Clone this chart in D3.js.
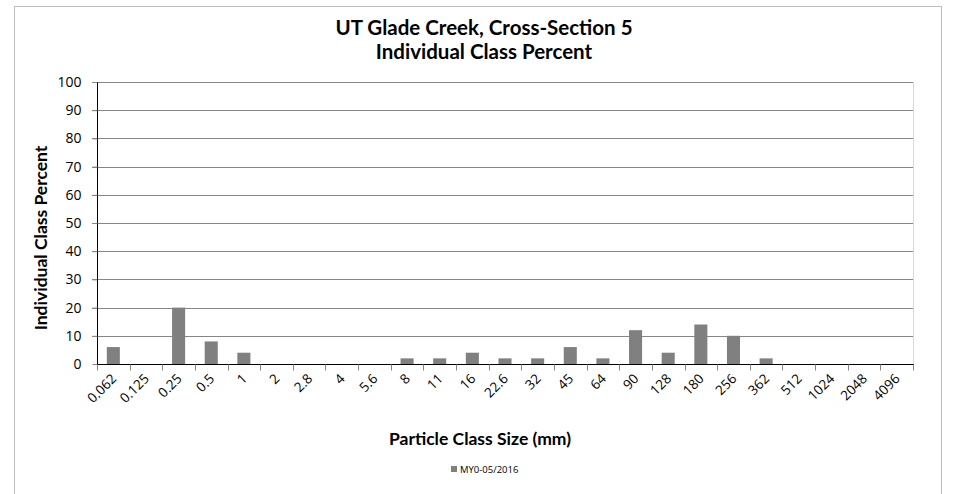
<!DOCTYPE html>
<html>
<head>
<meta charset="utf-8">
<title>UT Glade Creek, Cross-Section 5</title>
<script src="https://cdn.jsdelivr.net/npm/d3@7"></script>
<style>
  body { margin: 0; background: #fff; }
  text { font-family: Lato, "Open Sans", sans-serif; fill: #000; }
</style>
</head>
<body>
<svg id="chart" width="957" height="494"></svg>
<script>
// particle class sizes (mm) and percent in each class
var classes = ["0.062", "0.125", "0.25", "0.5", "1", "2", "2.8", "4", "5.6", "8", "11", "16", "22.6",
               "32", "45", "64", "90", "128", "180", "256", "362", "512", "1024", "2048", "4096"];
var percents = [6, 0, 20, 8, 4, 0, 0, 0, 0, 2, 2, 4, 2, 2, 6, 2, 12, 4, 14, 10, 2, 0, 0, 0, 0];
var yTicks = [0, 10, 20, 30, 40, 50, 60, 70, 80, 90, 100];
var seriesName = "MY0-05/2016";

var svg = d3.select("#chart");
var plotL = 97, plotR = 913, plotT = 82, plotB = 364;

// outer chart frame
svg.append("rect")
  .attr("x", 14.5).attr("y", 6.5)
  .attr("width", 927).attr("height", 500)
  .attr("fill", "none").attr("stroke", "#bfbfbf");

var x = d3.scaleBand().domain(classes).range([plotL, plotR]).paddingInner(0.6).paddingOuter(0.3);
var xb = d3.scaleBand().domain(classes).range([plotL, plotR]);  // for the tick marks
var y = d3.scaleLinear().domain([0, 100]).range([plotB, plotT]);

// gridlines
svg.append("g").selectAll("line")
  .data(yTicks.filter(function(d) { return d > 0; }))
  .enter().append("line")
    .attr("x1", plotL - 5).attr("x2", plotR)
    .attr("y1", function(d) { return Math.round(y(d)) + 0.5; })
    .attr("y2", function(d) { return Math.round(y(d)) + 0.5; })
    .attr("stroke", "#868686");

// right border of plot area
svg.append("line")
  .attr("x1", plotR + 0.5).attr("x2", plotR + 0.5)
  .attr("y1", plotT).attr("y2", plotB + 6)
  .attr("stroke", "#d9d9d9");

// bars
svg.append("g").selectAll("rect")
  .data(percents)
  .enter().append("rect")
    .attr("x", function(d, i) { return x(classes[i]); })
    .attr("width", x.bandwidth())
    .attr("y", function(d) { return y(d); })
    .attr("height", function(d) { return y(0) - y(d); })
    .attr("fill", "#808080");

// y axis
var yAxis = svg.append("g")
  .attr("transform", "translate(" + (plotL + 0.5) + ",0)")
  .call(d3.axisLeft(y).tickValues(yTicks).tickSize(5).tickPadding(11));
yAxis.select(".domain").attr("stroke", "#000").attr("d", "M0," + plotT + "V" + (plotB + 0.5));
yAxis.selectAll(".tick line").attr("stroke", "#868686");
yAxis.selectAll("text").attr("font-size", "14px").style("font-family", "'Open Sans', sans-serif");

// x axis: ticks sit on the category edges
var xAxis = svg.append("g")
  .attr("transform", "translate(0," + (Math.round(y(0)) + 0.5) + ")");
xAxis.append("line")
  .attr("x1", plotL).attr("x2", plotR + 1)
  .attr("stroke", "#000");
xAxis.selectAll("line.tk")
  .data(classes.concat(["end"]))
  .enter().append("line")
    .attr("class", "tk")
    .attr("x1", function(d, i) { return Math.round(plotL + i * xb.bandwidth()) + 0.5; })
    .attr("x2", function(d, i) { return Math.round(plotL + i * xb.bandwidth()) + 0.5; })
    .attr("y1", 0).attr("y2", 6)
    .attr("stroke", "#868686");
xAxis.selectAll("text")
  .data(classes)
  .enter().append("text")
    .attr("transform", function(d) {
      return "translate(" + (xb(d) + xb.bandwidth() / 2 + 4) + ",15) rotate(-45)";
    })
    .attr("text-anchor", "end")
    .attr("font-size", "13.5px")
    .style("font-family", "'Open Sans', sans-serif")
    .text(function(d) { return d; });

// titles
svg.append("text")
  .attr("x", 484).attr("y", 35)
  .attr("text-anchor", "middle")
  .attr("font-size", "20.5px").attr("font-weight", "bold")
  .text("UT Glade Creek, Cross-Section 5");
svg.append("text")
  .attr("x", 484).attr("y", 59)
  .attr("text-anchor", "middle")
  .attr("font-size", "20.5px").attr("font-weight", "bold")
  .text("Individual Class Percent");

svg.append("text")
  .attr("transform", "translate(47,238) rotate(-90)")
  .attr("text-anchor", "middle")
  .attr("font-size", "17.5px").attr("font-weight", "bold")
  .text("Individual Class Percent");

svg.append("text")
  .attr("x", 480).attr("y", 445)
  .attr("text-anchor", "middle")
  .attr("font-size", "17.5px").attr("font-weight", "bold")
  .text("Particle Class Size (mm)");

// legend
var legend = svg.append("g").attr("transform", "translate(451,466)");
legend.append("rect").attr("width", 6).attr("height", 6).attr("fill", "#808080");
legend.append("text").attr("x", 9).attr("y", 6.5)
  .attr("font-size", "9.5px")
  .style("font-family", "'Open Sans', sans-serif")
  .text(seriesName);
</script>
</body>
</html>
